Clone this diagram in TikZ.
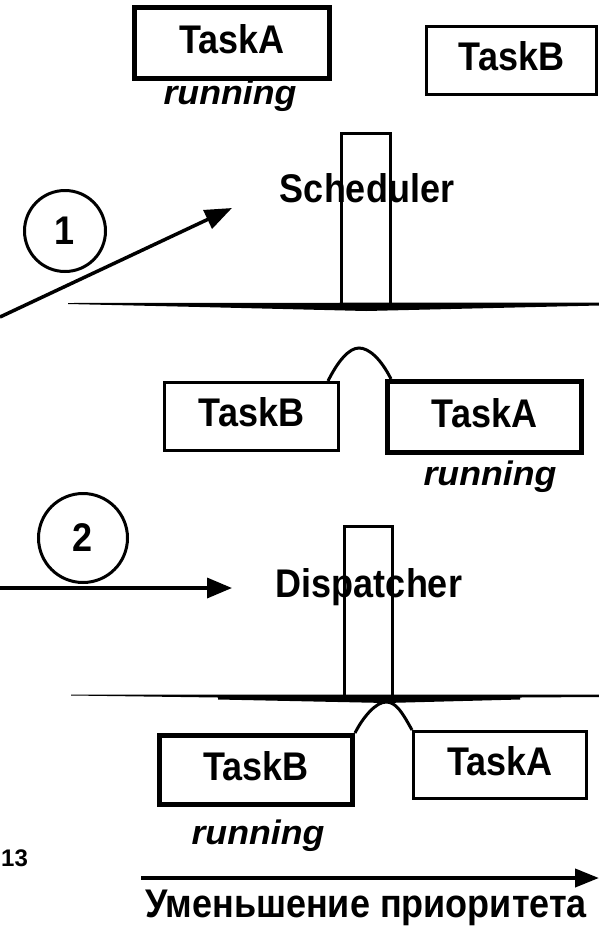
\documentclass[tikz,border=0pt]{standalone}
\usepackage{graphicx}
\usepackage{fontspec}
\setmainfont{Liberation Sans}
\usetikzlibrary{arrows.meta}
\newcommand\narrowtxt[1]{\scalebox{0.9}[1]{#1}}
\newcommand\widetxt[1]{\scalebox{1.05}[1]{#1}}
\begin{document}
\begin{tikzpicture}[x=1pt,y=-1pt,
  lbl/.style={font=\fontsize{40}{44}\selectfont\bfseries},
  taskbox/.style={draw, line width=3pt, lbl, inner sep=0pt, text height=29pt, text depth=9pt},
  thickbox/.style={taskbox, line width=5pt},
  runlbl/.style={font=\fontsize{34}{38}\selectfont\bfseries\itshape, anchor=base, inner sep=0pt},
  pillar/.style={draw, line width=3pt, inner sep=0pt},
  numcirc/.style={draw, circle, line width=3pt, lbl, inner sep=0pt},
  conn/.style={line width=3pt},
  arr/.style={line width=3.5pt, -{Triangle[length=27pt,width=20pt]}},
  plain/.style={lbl, anchor=base, inner sep=0pt},
]
\useasboundingbox (0,0) rectangle (599,927);

% ---------- top: scheduler ----------
\node[thickbox, minimum width=195pt, minimum height=71pt] (tA) at (232,43) {\narrowtxt{TaskA}};
\node[runlbl] (tArun) at (230,104) {\widetxt{running}};
\node[taskbox, minimum width=170pt, minimum height=68pt] (tB) at (511.5,60.5) {\narrowtxt{TaskB}};

\node[pillar, minimum width=49pt, minimum height=172pt] (p1) at (366,219.5) {};
\node[plain] (sched) at (367,202) {\narrowtxt{Scheduler}};
\fill (68,303) -- (599,302.5) -- (599,305.5) -- (366,311) -- (200,307) -- (68,304) -- cycle;

\node[numcirc, minimum size=81pt] (c1) at (65,231) {\narrowtxt{1}};
\coordinate (a1s) at (0,317);
\coordinate (a1e) at (232,208);
\draw[arr] (a1s) -- (a1e);

% ---------- middle ----------
\node[taskbox, minimum width=174pt, minimum height=68pt] (mB) at (251.5,416.5) {\narrowtxt{TaskB}};
\node[thickbox, minimum width=194pt, minimum height=71pt] (mA) at (484.5,417) {\narrowtxt{TaskA}};
\node[runlbl] (mArun) at (490,485) {\widetxt{running}};
\draw[conn] ([xshift=-12pt]mB.north east) .. controls +(10,-20) and +(-10,0) .. (359,348)
  .. controls +(10,0) and +(-10,-20) .. ([xshift=6pt]mA.north west);

\node[numcirc, minimum size=89pt] (c2) at (83,538) {\narrowtxt{2}};
\coordinate (a2s) at (0,588);
\coordinate (a2e) at (232,588);
\draw[line width=3.5pt, -{Triangle[length=25pt,width=20pt]}] (a2s) -- (a2e);

\node[pillar, minimum width=48pt, minimum height=171pt] (p2) at (368.5,612) {};
\node[plain] (disp) at (369,597) {\narrowtxt{Dispatcher}};
\fill (71,694.5) -- (599,694.5) -- (599,697) -- (520,697.5) -- (520,699.5) -- (386,703)
  -- (218,699.5) -- (218,697.5) -- (71,695.5) -- cycle;

% ---------- bottom ----------
\node[thickbox, minimum width=193pt, minimum height=69pt] (bB) at (256,770) {\narrowtxt{TaskB}};
\node[taskbox, minimum width=173pt, minimum height=67pt] (bA) at (500,765) {\narrowtxt{TaskA}};
\node[runlbl] (bBrun) at (258,844) {\widetxt{running}};
\draw[conn] (bB.north east) .. controls +(8,-16) and +(-10,0) .. (386,702)
  .. controls +(10,0) and +(-10,-18) .. (bA.north west);

\node[font=\fontsize{24}{28}\selectfont\bfseries, anchor=base west, inner sep=0pt] (pg) at (1,866) {13};
\coordinate (a3s) at (141,878);
\coordinate (a3e) at (599,878);
\draw[line width=4pt, -{Triangle[length=24pt,width=18pt]}] (a3s) -- (a3e);
\node[plain] (prio) at (366,917) {\narrowtxt{Уменьшение приоритета}};
\end{tikzpicture}
\end{document}
